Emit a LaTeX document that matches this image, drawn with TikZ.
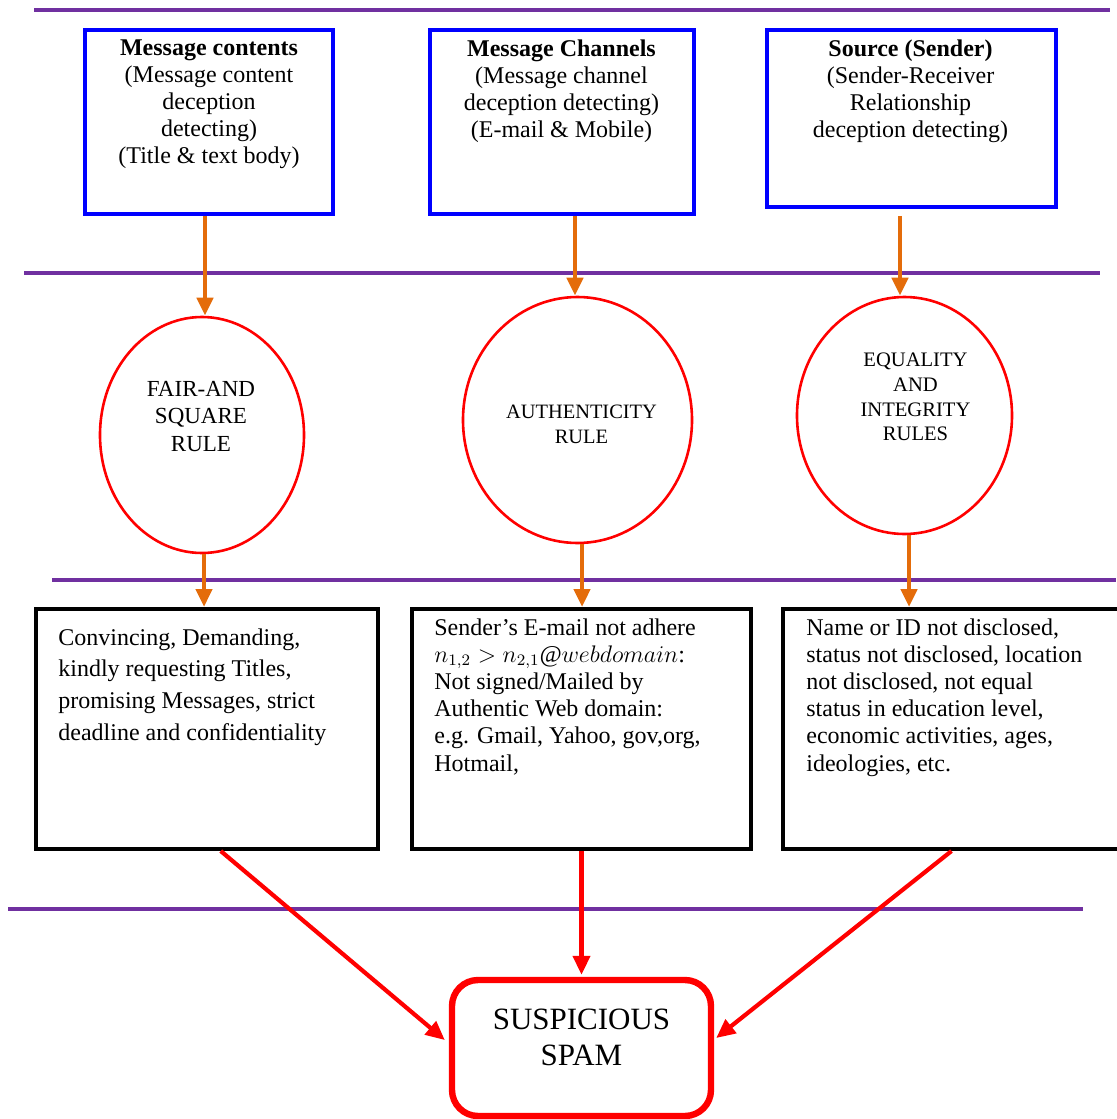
\documentclass[tikz,border=0pt]{standalone}
\usepackage{fontspec}
\setmainfont{Liberation Serif}
\newfontfamily\tnr{Liberation Serif}
\usetikzlibrary{arrows.meta,shapes.geometric}
\definecolor{lpurple}{RGB}{112,48,160}
\definecolor{lorange}{RGB}{228,108,10}
\definecolor{lblue}{RGB}{0,0,255}
\definecolor{lred}{RGB}{255,0,0}
\begin{document}
\begin{tikzpicture}[x=0.5pt,y=-0.5pt,
  every node/.style={font=\tnr},
  sepline/.style={draw=lpurple,line width=2pt},
  topbox/.style={draw=lblue,line width=1.8pt,rectangle,inner sep=0pt},
  rulebox/.style={draw=lred,line width=1.3pt,ellipse,inner sep=0pt},
  cbox/.style={draw=black,line width=2pt,rectangle,inner sep=0pt},
  spambox/.style={draw=lred,line width=3.2pt,rectangle,rounded corners=13pt,inner sep=0pt},
  oarr/.style={draw=lorange,line width=2.4pt,-{Triangle[width=8pt,length=9pt]}},
  rarr/.style={draw=lred,line width=2.1pt,-{Triangle[width=8.5pt,length=9.5pt]}},
  ttext/.style={inner sep=0pt,align=center,anchor=north,font=\tnr\fontsize{12}{13.6}\selectfont},
  ctext/.style={inner sep=0pt,align=left,anchor=north west,font=\tnr\fontsize{12}{13.6}\selectfont}
]
\useasboundingbox (0,0) rectangle (1116,1119);

% separator lines
\draw[sepline] (34,10) -- (1110,10);
\draw[sepline] (24,273) -- (1100,273);
\draw[sepline] (52,580) -- (1116,580);
\draw[sepline] (8,909) -- (1083,909);

% top boxes
\node[topbox,minimum width=124pt,minimum height=92pt] (b1) at (209,122) {};
\node[topbox,minimum width=132pt,minimum height=92pt] (b2) at (562,122) {};
\node[topbox,minimum width=144.5pt,minimum height=88.5pt] (b3) at (911.5,118.5) {};
\node[ttext] (t1) at (209,39) {\textbf{Message contents}\\(Message content\\deception\\detecting)\\(Title \& text body)};
\node[ttext] (t2) at (561.5,39) {\textbf{Message Channels}\\(Message channel\\deception detecting)\\(E-mail \& Mobile)};
\node[ttext] (t3) at (910.5,39) {\textbf{Source (Sender)}\\(Sender-Receiver\\Relationship\\deception detecting)};

% ellipses
\node[rulebox,minimum width=102pt,minimum height=118pt] (e1) at (202,435) {};
\node[rulebox,minimum width=114.5pt,minimum height=123pt] (e2) at (577.5,420) {};
\node[rulebox,minimum width=107.5pt,minimum height=118.5pt] (e3) at (904.5,415.5) {};
\node[inner sep=0pt,align=center,font=\tnr\fontsize{11.5}{13.75}\selectfont] (et1) at (201,416.5) {FAIR-AND\\SQUARE\\RULE};
\node[inner sep=0pt,align=center,font=\tnr\fontsize{10.2}{12.5}\selectfont] (et2) at (581.5,424.5) {AUTHENTICITY\\RULE};
\node[inner sep=0pt,align=center,font=\tnr\fontsize{10.3}{12.3}\selectfont] (et3) at (915.5,397) {EQUALITY\\AND\\INTEGRITY\\RULES};

% condition boxes
\node[cbox,minimum width=170.75pt,minimum height=120pt] (c1) at (206.75,729) {};
\node[cbox,minimum width=169.5pt,minimum height=120pt] (c2) at (581.5,729) {};
\node[cbox,minimum width=168.5pt,minimum height=120pt] (c3) at (951.5,729) {};
\node[ctext,font=\tnr\fontsize{12}{15.85}\selectfont] (ct1) at (58,628) {Convincing, Demanding,\\kindly requesting Titles,\\promising Messages, strict\\deadline and confidentiality};
\node[ctext] (ct2) at (434,618) {Sender’s E-mail not adhere\\$n_{1,2} > n_{2,1}\mbox{\itshape @}webdomain$:\\Not signed/Mailed by\\Authentic Web domain:\\e.g. Gmail, Yahoo, gov,org,\\Hotmail,};
\node[ctext] (ct3) at (806,618) {Name or ID not disclosed,\\status not disclosed, location\\not disclosed, not equal\\status in education level,\\economic activities, ages,\\ideologies, etc.};

% result
\node[spambox,minimum width=129.5pt,minimum height=68pt] (spam) at (581.5,1048) {};
\node[inner sep=0pt,align=center,font=\tnr\fontsize{15.5}{18}\selectfont] (st) at (581.5,1037) {SUSPICIOUS\\SPAM};

% orange arrows
\draw[oarr] ([xshift=-2pt]b1.south) -- ([xshift=-2pt]b1.south |- e1.north);
\draw[oarr] ([xshift=6.5pt]b2.south) -- ([xshift=6.5pt]b2.south |- e2.north);
\draw[oarr,shorten <=3.5pt] ([xshift=-5.75pt]b3.south) -- ([xshift=-5.75pt]b3.south |- e3.north);
\draw[oarr] ([xshift=1pt]e1.south) -- ([xshift=1pt]e1.south |- c1.north);
\draw[oarr] ([xshift=2.25pt]e2.south) -- ([xshift=2.25pt]e2.south |- c2.north);
\draw[oarr] ([xshift=2.25pt]e3.south) -- ([xshift=2.25pt]e3.south |- c3.north);

% red arrows
\draw[rarr] ([xshift=7pt]c1.south) -- ([xshift=-2pt,yshift=4pt]spam.west);
\draw[rarr,shorten >=1pt] (c2.south) -- (spam.north);
\draw[rarr] (c3.south) -- ([xshift=1pt,yshift=5pt]spam.east);
\end{tikzpicture}
\end{document}
